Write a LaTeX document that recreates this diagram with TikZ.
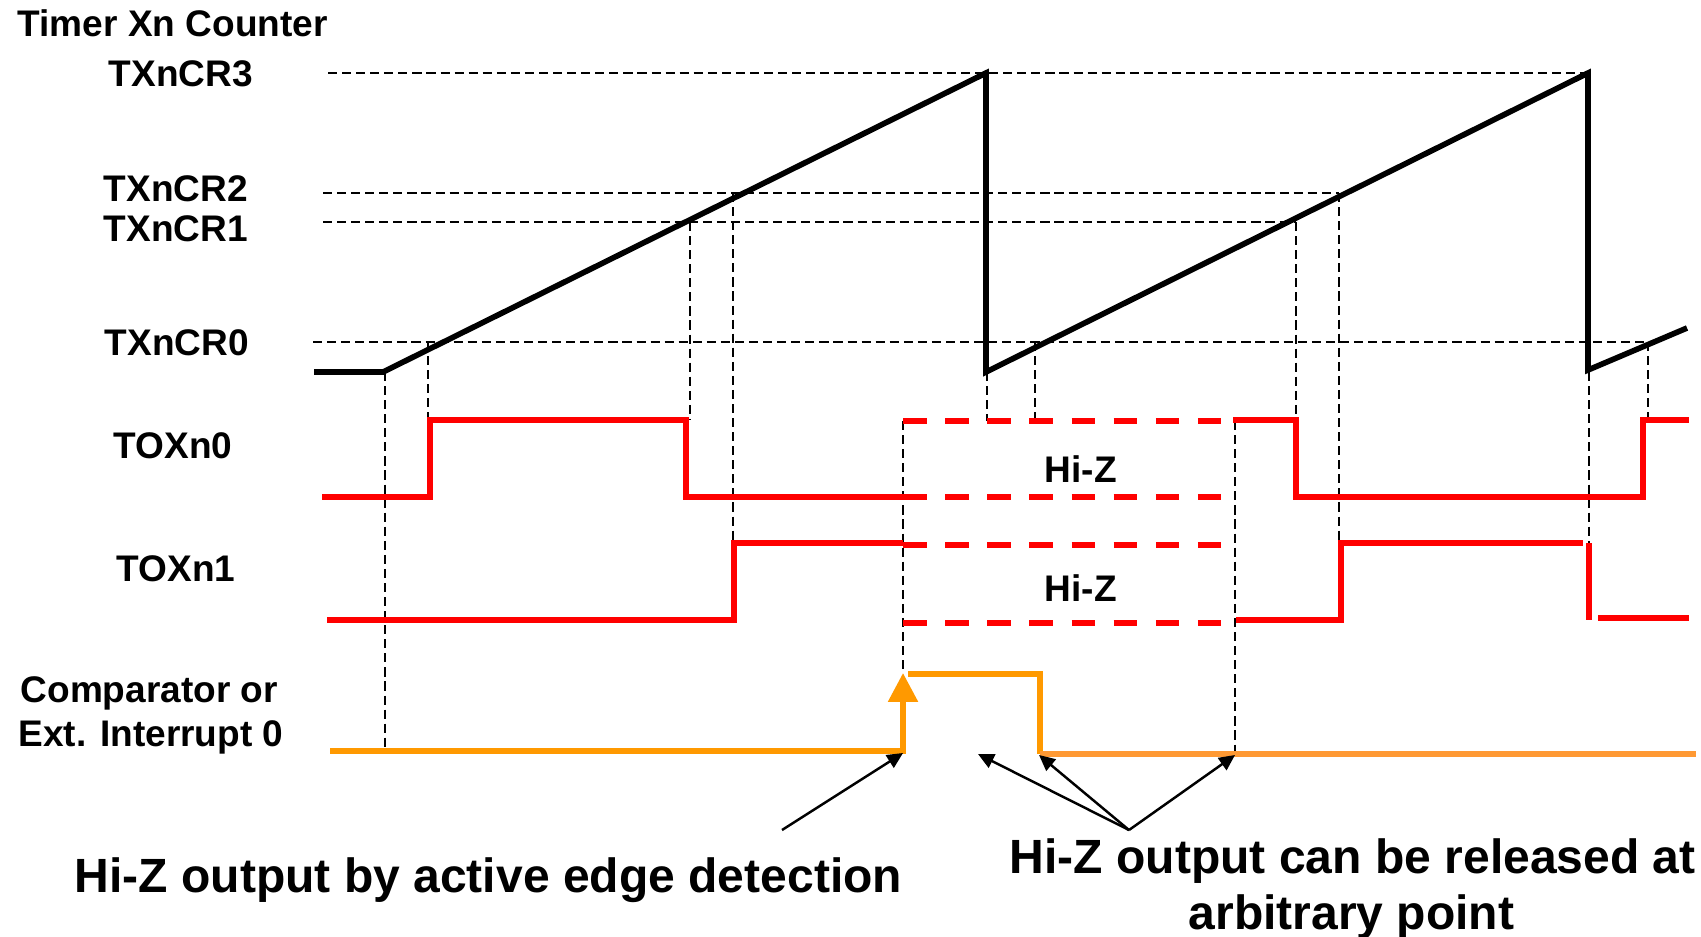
\documentclass[tikz,border=0pt]{standalone}
\usepackage{fontspec}
\setmainfont{Liberation Sans}
\usetikzlibrary{arrows.meta}
\definecolor{sigred}{HTML}{FF0000}
\definecolor{irqA}{HTML}{FF9900}
\definecolor{irqB}{HTML}{FF9933}
\begin{document}
\begin{tikzpicture}[x=0.01cm,y=-0.01cm,
  lbl/.style={font=\fontsize{10.53pt}{12pt}\selectfont\bfseries, inner sep=0pt, anchor=base west},
  biglbl/.style={font=\fontsize{13.66pt}{16pt}\selectfont\bfseries, inner sep=0pt, anchor=base west},
  ctr/.style={line width=1.6pt, black, line join=miter},
  sig/.style={line width=1.55pt, sigred},
  hiz/.style={sig, dash pattern=on 6.69pt off 5.29pt},
  guide/.style={line width=0.75pt, black, dash pattern=on 2.6pt off 1.4pt},
  irq/.style={line width=1.6pt, irqA},
  note/.style={line width=0.7pt, black, -{Triangle[length=4.5pt,width=4.2pt]}}]
\useasboundingbox (0,0) rectangle (1701,936);

% labels
\node[lbl] (title) at (17,36) {Timer Xn Counter};
\node[lbl] (cr3) at (108,86) {TXnCR3};
\node[lbl] (cr2) at (103,201) {TXnCR2};
\node[lbl] (cr1) at (103,241) {TXnCR1};
\node[lbl] (cr0) at (104,355) {TXnCR0};
\node[lbl] (tox0) at (113,458) {TOXn0};
\node[lbl] (tox1) at (116,581) {TOXn1};
\node[lbl] (cmp1) at (20,702) {Comparator or};
\node[lbl] (cmp2) at (18,746) {Ext. Interrupt 0};
\node[lbl] (hiz0) at (1044,482) {Hi-Z};
\node[lbl] (hiz1) at (1044,601) {Hi-Z};
\node[biglbl] (noteL) at (74,892) {Hi-Z output by active edge detection};
\node[biglbl] (noteR1) at (1009,873) {Hi-Z output can be released at};
\node[biglbl] (noteR2) at (1188,929) {arbitrary point};

% horizontal guide lines
\draw[guide] (328,73) -- (1588,73);
\draw[guide] (323,193) -- (1339,193);
\draw[guide] (323,222) -- (1296,222);
\draw[guide] (313,342) -- (1648,342);

% vertical guide lines
\draw[guide] (385,372) -- (385,752);
\draw[guide] (428,342) -- (428,420);
\draw[guide] (690,222) -- (690,420);
\draw[guide] (733,193) -- (733,543);
\draw[guide] (903,421) -- (903,673);
\draw[guide] (987,372) -- (987,421);
\draw[guide] (1035,342) -- (1035,421);
\draw[guide] (1235,421) -- (1235,754);
\draw[guide] (1296,222) -- (1296,420);
\draw[guide] (1339,193) -- (1339,543);
\draw[guide] (1589,372) -- (1589,543);
\draw[guide] (1648,342) -- (1648,420);

% counter
\draw[ctr] (314,372) -- (383,372) -- (986,73) -- (986,372) -- (1588,73) -- (1588,370) -- (1687,328);

% TOXn0
\draw[sig] (322,497) -- (430,497) -- (430,420) -- (686,420) -- (686,497) -- (903,497);
\draw[hiz] (903,421) -- (1221,421);
\draw[hiz] (903,497) -- (1221,497);
\draw[sig] (1233,420) -- (1296,420) -- (1296,497) -- (1643,497) -- (1643,420) -- (1689,420);

% TOXn1
\draw[sig] (327,620) -- (734,620) -- (734,543) -- (903,543);
\draw[hiz] (903,545) -- (1221,545);
\draw[hiz] (903,623) -- (1221,623);
\draw[sig] (1236,620) -- (1341,620) -- (1341,543) -- (1583,543);
\draw[sig] (1589,543) -- (1589,620);
\draw[sig] (1598,618) -- (1689,618);

% comparator / interrupt
\draw[irq, -{Triangle[length=8.2pt,width=8.2pt]}] (330,751) -- (903,751) -- (903,673);
\draw[irq] (908,674) -- (1040,674) -- (1040,754);
\draw[line width=1.8pt, irqB] (1040,754) -- (1696,754);

% annotation arrows
\coordinate (aL) at (782,830);
\coordinate (aR) at (1129,830);
\coordinate (tA) at (903,753);
\coordinate (tB) at (978,754);
\coordinate (tC) at (1039,755);
\coordinate (tD) at (1235,755);
\draw[note] (aL) -- (tA);
\draw[note] (aR) -- (tB);
\draw[note] (aR) -- (tC);
\draw[note] (aR) -- (tD);
\end{tikzpicture}
\end{document}
